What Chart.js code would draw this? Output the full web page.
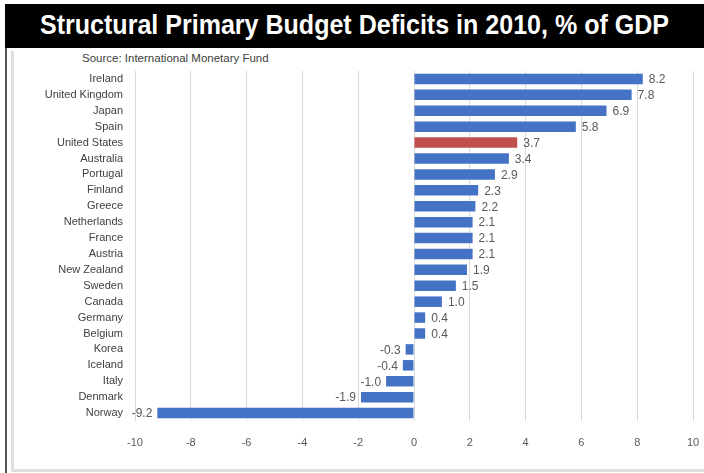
<!DOCTYPE html>
<html lang="en">
<head>
<meta charset="UTF-8">
<title>Structural Primary Budget Deficits in 2010</title>
<style>
  html, body { margin: 0; padding: 0; background: #fff; }
  body { width: 704px; height: 473px; position: relative; overflow: hidden; font-family: "Liberation Sans", Arial, sans-serif; }
  #titleBar {
    position: absolute; left: 5px; top: 4px; width: 699px; height: 44px;
    background: #000; overflow: hidden;
  }
  #titleText {
    position: absolute; left: 0; top: 6px; white-space: nowrap;
    color: #fff; font-weight: bold; font-size: 27px; line-height: 30px;
    transform-origin: 0 0;
  }
  #darkLine { position: absolute; left: 5px; top: 48px; width: 2px; height: 425px; background: #555; }
  #innerBox {
    position: absolute; left: 11px; top: 51px; width: 720px; height: 418px;
    border-left: 3px solid #e0e0e0; border-bottom: 3px solid #e0e0e0;
  }
  #source { position: absolute; left: 82px; top: 52px; font-size: 11.5px; color: #404040; }
  #chartCanvas { position: absolute; left: 0; top: 0; }
</style>
</head>
<body>
  <div id="titleBar"><span id="titleText">Structural Primary Budget Deficits in 2010, % of GDP</span></div>
  <div id="darkLine"></div>
  <div id="innerBox"></div>
  <div id="source">Source: International Monetary Fund</div>
  <canvas id="chartCanvas" width="704" height="473"></canvas>

  <script src="https://cdn.jsdelivr.net/npm/chart.js"></script>
  <script>
    // dados
    const countries = ['Ireland', 'United Kingdom', 'Japan', 'Spain', 'United States', 'Australia',
      'Portugal', 'Finland', 'Greece', 'Netherlands', 'France', 'Austria', 'New Zealand', 'Sweden',
      'Canada', 'Germany', 'Belgium', 'Korea', 'Iceland', 'Italy', 'Denmark', 'Norway'];
    const deficits = [8.2, 7.8, 6.9, 5.8, 3.7, 3.4, 2.9, 2.3, 2.2, 2.1, 2.1, 2.1, 1.9, 1.5,
      1.0, 0.4, 0.4, -0.3, -0.4, -1.0, -1.9, -9.2];
    const highlight = 'United States';
    const xTicks = [-10, -8, -6, -4, -2, 0, 2, 4, 6, 8, 10];

    // title fits the black bar like in the original (condensed look)
    const titleEl = document.getElementById('titleText');
    const w = titleEl.getBoundingClientRect().width;
    const targetW = 629;
    titleEl.style.transform = 'scaleX(' + (targetW / w) + ')';
    titleEl.style.left = (354 - 5 - targetW / 2) + 'px';

    const blue = '#4472C4';
    const red = '#C0504D';

    // rótulos de valor ao lado das barras
    const valueLabels = {
      id: 'valueLabels',
      afterDatasetsDraw(chart) {
        const c = chart.ctx;
        const meta = chart.getDatasetMeta(0);
        c.save();
        c.font = '12px "Liberation Sans", Arial, sans-serif';
        c.fillStyle = '#595959';
        c.textBaseline = 'middle';
        meta.data.forEach((bar, i) => {
          const v = deficits[i];
          const txt = v.toFixed(1);
          if (v >= 0) {
            c.textAlign = 'left';
            c.fillText(txt, bar.x + 6, bar.y + 1);
          } else {
            c.textAlign = 'right';
            c.fillText(txt, bar.x - 5, bar.y + 1);
          }
        });
        c.restore();
      }
    };

    const ctx = document.getElementById('chartCanvas').getContext('2d');
    const chart = new Chart(ctx, {
      type: 'bar',
      data: {
        labels: countries,
        datasets: [{
          data: deficits,
          backgroundColor: countries.map(c => c === highlight ? red : blue),
          borderWidth: 0,
          barPercentage: 0.66,
          categoryPercentage: 1
        }]
      },
      options: {
        indexAxis: 'y',
        responsive: false,
        animation: false,
        devicePixelRatio: 1,
        layout: { padding: { top: 71, right: 11, left: 0, bottom: 0 } },
        plugins: {
          legend: { display: false },
          tooltip: { enabled: false }
        },
        scales: {
          x: {
            min: -10,
            max: 10,
            afterBuildTicks: (scale) => { scale.ticks = xTicks.map(v => ({ value: v })); },
            afterFit: (scale) => { scale.height = 52; },
            grid: { color: '#d9d9d9', lineWidth: 1, drawTicks: true, tickLength: 12, tickColor: 'rgba(0,0,0,0)' },
            border: { display: false },
            ticks: {
              padding: 3,
              color: '#595959',
              font: { family: '"Liberation Sans", Arial, sans-serif', size: 11 }
            }
          },
          y: {
            afterFit: (scale) => { scale.width = 135; },
            grid: { display: false, drawTicks: false },
            border: { display: false },
            ticks: {
              padding: 12,
              color: '#404040',
              autoSkip: false,
              font: { family: '"Liberation Sans", Arial, sans-serif', size: 11 }
            }
          }
        }
      },
      plugins: [valueLabels]
    });
  </script>
</body>
</html>
